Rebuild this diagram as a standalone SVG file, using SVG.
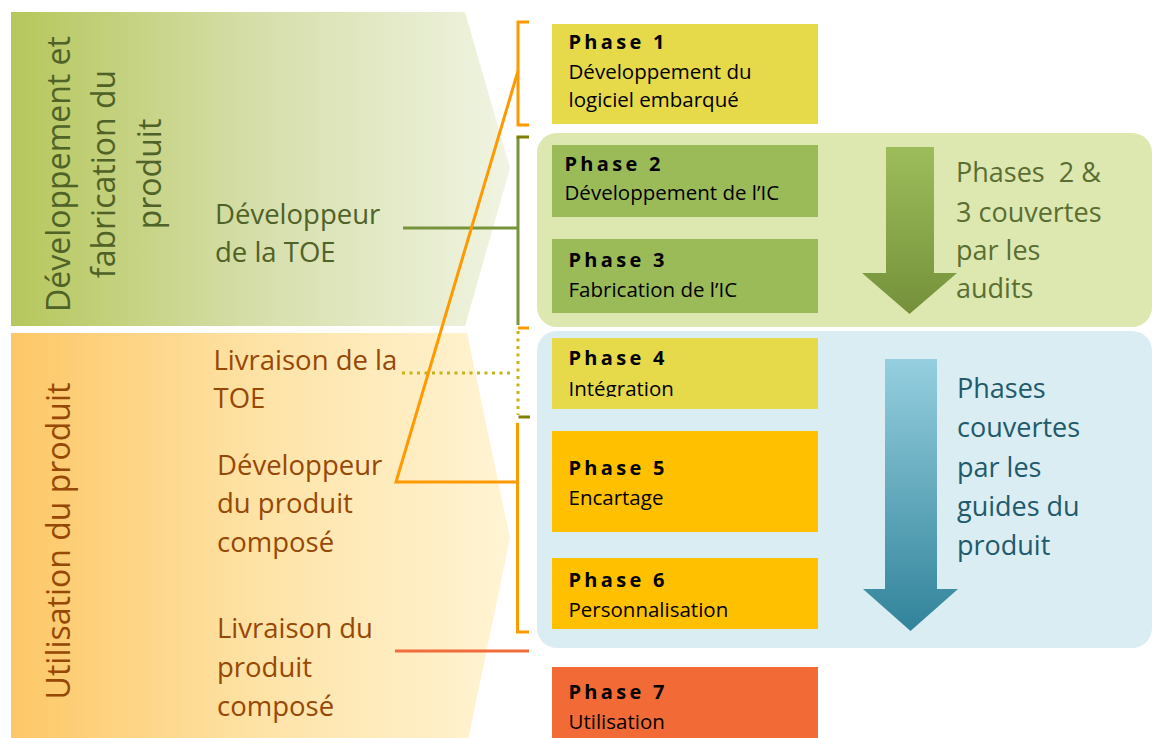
<svg xmlns="http://www.w3.org/2000/svg" width="1152" height="738" viewBox="0 0 1152 738">
<defs>
<linearGradient id="gGreenChev" x1="0" y1="0" x2="1" y2="0">
<stop offset="0" stop-color="#b6c75c"/>
<stop offset="0.5" stop-color="#d6dfab"/>
<stop offset="1" stop-color="#f0f4e2"/>
</linearGradient>
<linearGradient id="gOrangeChev" x1="0" y1="0" x2="1" y2="0">
<stop offset="0" stop-color="#fdc766"/>
<stop offset="0.5" stop-color="#fee3a6"/>
<stop offset="1" stop-color="#fff4d4"/>
</linearGradient>
<linearGradient id="gGreenArrow" x1="0" y1="0" x2="0" y2="1">
<stop offset="0" stop-color="#9dbd5b"/>
<stop offset="1" stop-color="#74913a"/>
</linearGradient>
<linearGradient id="gBlueArrow" x1="0" y1="0" x2="0" y2="1">
<stop offset="0" stop-color="#95cfdf"/>
<stop offset="1" stop-color="#31839a"/>
</linearGradient>
<clipPath id="clipP4"><rect x="552" y="338" width="266" height="59"/></clipPath>
<style>
text{font-family:"Open Sans","Liberation Sans",Arial,sans-serif;}
.title{font-size:20px;font-weight:bold;letter-spacing:3.3px;fill:#000;}
.sub{font-size:20.5px;fill:#000;}
.lbl{font-size:27.5px;}
.green{fill:#4f6228;}
.brown{fill:#974806;}
.vert{font-size:32px;text-anchor:middle;}
.side{font-size:27px;}
.dkgreen{fill:#5a6e32;}
.teal{fill:#215a6b;}
.ln{fill:none;stroke-width:3;}
</style>
</defs>
<rect width="1152" height="738" fill="#ffffff"/>

<g id="band-dev">
<polygon points="11,12 465,12 510,168 465,326 11,326" fill="url(#gGreenChev)"/>
<text class="vert green" transform="translate(70,174) rotate(-90)">Développement et</text>
<text class="vert green" transform="translate(115,174) rotate(-90)">fabrication du</text>
<text class="vert green" transform="translate(161,174) rotate(-90)">produit</text>
</g>
<g id="band-use">
<polygon points="11,333 467,333 510,538 467,745 11,745" fill="url(#gOrangeChev)"/>
<text class="vert brown" transform="translate(70,541) rotate(-90)">Utilisation du produit</text>
</g>

<g id="panel-audits">
<rect x="537" y="133" width="615" height="194" rx="20" fill="#dce8b0"/>
<polygon points="886,147 934,147 934,273 957,273 909.5,314 862,273 886,273" fill="url(#gGreenArrow)"/>
<text class="side dkgreen" x="956" y="182" style="white-space:pre">Phases  2 &amp;</text>
<text class="side dkgreen" x="956" y="222">3 couvertes</text>
<text class="side dkgreen" x="956" y="260">par les</text>
<text class="side dkgreen" x="956" y="298">audits</text>
</g>
<g id="panel-guides">
<rect x="537" y="331" width="615" height="317" rx="20" fill="#daedf3"/>
<polygon points="885,359 937,359 937,589 958,589 910.5,631 863,589 885,589" fill="url(#gBlueArrow)"/>
<text class="side teal" x="957" y="398">Phases</text>
<text class="side teal" x="957" y="437">couvertes</text>
<text class="side teal" x="957" y="477">par les</text>
<text class="side teal" x="957" y="516">guides du</text>
<text class="side teal" x="957" y="555">produit</text>
</g>

<g id="phase1">
<rect x="552" y="24" width="266" height="100" fill="#e6da4b"/>
<text class="title" x="568.5" y="48.5">Phase 1</text>
<text class="sub" x="568.5" y="78.5">Développement du</text>
<text class="sub" x="568.5" y="107">logiciel embarqué</text>
</g>
<g id="phase2">
<rect x="552" y="145" width="266" height="72" fill="#9bbb59"/>
<text class="title" x="564.5" y="170.5">Phase 2</text>
<text class="sub" x="564.5" y="200">Développement de l’IC</text>
</g>
<g id="phase3">
<rect x="552" y="239" width="266" height="74" fill="#9bbb59"/>
<text class="title" x="568.5" y="266.5">Phase 3</text>
<text class="sub" x="568.5" y="296.5">Fabrication de l’IC</text>
</g>
<g id="phase4">
<rect x="552" y="338" width="266" height="71" fill="#e6da4b"/>
<g clip-path="url(#clipP4)">
<text class="title" x="568.5" y="365">Phase 4</text>
<text class="sub" x="568.5" y="395.5">Intégration</text>
</g>
</g>
<g id="phase5">
<rect x="552" y="431" width="266" height="101" fill="#ffc000"/>
<text class="title" x="568.5" y="475">Phase 5</text>
<text class="sub" x="568.5" y="505">Encartage</text>
</g>
<g id="phase6">
<rect x="552" y="558" width="266" height="71" fill="#ffc000"/>
<text class="title" x="568.5" y="586.5">Phase 6</text>
<text class="sub" x="568.5" y="616.5">Personnalisation</text>
</g>
<g id="phase7">
<rect x="552" y="667" width="266" height="75" fill="#f26b36"/>
<text class="title" x="568.5" y="699">Phase 7</text>
<text class="sub" x="568.5" y="729">Utilisation</text>
</g>

<g id="label-dev-toe">
<text class="lbl green" x="215" y="224">Développeur</text>
<text class="lbl green" x="215" y="262">de la TOE</text>
</g>
<g id="label-livraison-toe">
<text class="lbl brown" x="213.5" y="370">Livraison de la</text>
<text class="lbl brown" x="213.5" y="408">TOE</text>
</g>
<g id="label-dev-produit">
<text class="lbl brown" x="217" y="475">Développeur</text>
<text class="lbl brown" x="217" y="513">du produit</text>
<text class="lbl brown" x="217" y="552">composé</text>
</g>
<g id="label-livraison-produit">
<text class="lbl brown" x="217" y="638">Livraison du</text>
<text class="lbl brown" x="217" y="677">produit</text>
<text class="lbl brown" x="217" y="716">composé</text>
</g>

<g id="connectors">
<!-- bracket phase 1 -->
<polyline class="ln" points="529,22 518,22 518,125 529,125" stroke="#ff9900"/>
<!-- bracket phases 2-3 -->
<line class="ln" x1="518" y1="137" x2="518" y2="325" stroke="#77933c"/>
<line class="ln" x1="516.5" y1="137" x2="529" y2="137" stroke="#7f7f00"/>
<line class="ln" x1="518" y1="328" x2="529" y2="328" stroke="#ff9900"/>
<line class="ln" x1="403" y1="228" x2="518" y2="228" stroke="#77933c"/>
<!-- dotted phase 4 -->
<line class="ln" x1="518" y1="331" x2="518" y2="415" stroke="#c8b21a" stroke-dasharray="3,4.5"/>
<line class="ln" x1="518.5" y1="417" x2="530" y2="417" stroke="#808000"/>
<line class="ln" x1="402" y1="373" x2="512" y2="373" stroke="#c8b21a" stroke-dasharray="3,4.5"/>
<!-- bracket phases 5-6 -->
<polyline class="ln" points="517.5,423 517.5,632 529,632" stroke="#ff9900"/>
<polyline class="ln" points="518,71 396,482 517.5,482" stroke="#ff9900" stroke-linejoin="miter"/>
<!-- phase 7 -->
<line class="ln" x1="395" y1="651" x2="529" y2="651" stroke="#f26b3a"/>
</g>
</svg>
